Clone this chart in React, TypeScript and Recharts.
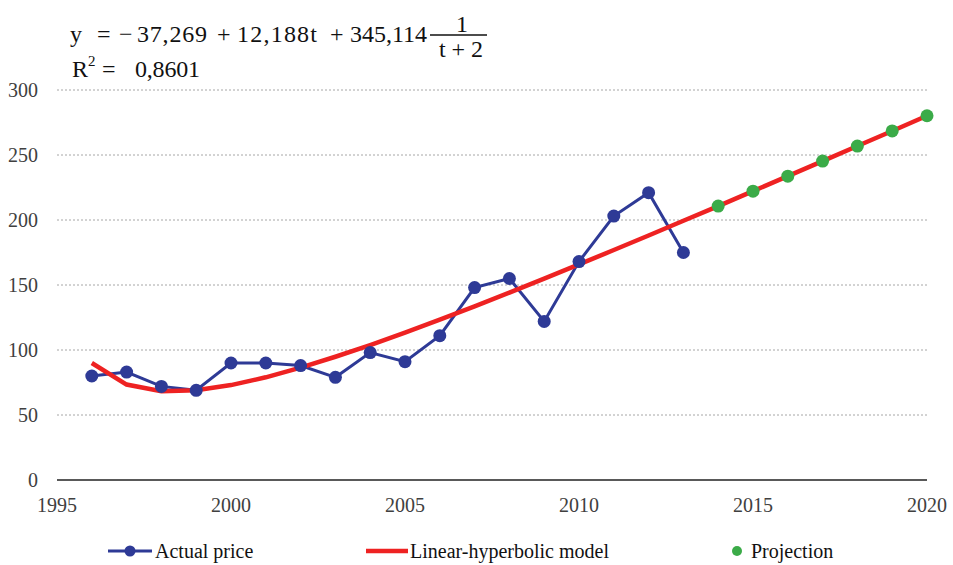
import { ComposedChart, Line, XAxis, YAxis, CartesianGrid } from 'recharts'

const years = [1996, 1997, 1998, 1999, 2000, 2001, 2002, 2003, 2004, 2005, 2006, 2007, 2008, 2009, 2010, 2011, 2012, 2013, 2014, 2015, 2016, 2017, 2018, 2019, 2020]
const actualPrice = [80, 83, 72, 69, 90, 90, 88, 79, 98, 91, 111, 148, 155, 122, 168, 203, 221, 175]
const modelValues = [90.0, 73.4, 68.3, 69.0, 73.0, 79.0, 86.4, 94.8, 103.8, 113.4, 123.4, 133.6, 144.2, 154.9, 165.9, 176.9, 188.1, 199.4, 210.7, 222.2, 233.7, 245.3, 256.9, 268.5, 280.2]
const projectionYears = [2014, 2015, 2016, 2017, 2018, 2019, 2020]
const projectionValues = [210.7, 222.2, 233.7, 245.3, 256.9, 268.5, 280.2]
const xTicks = [1995, 2000, 2005, 2010, 2015, 2020]
const yTicks = [0, 50, 100, 150, 200, 250, 300]

const BLUE = '#2e3a96'
const RED = '#ee2222'
const GREEN = '#3bab48'
const serif = "'Liberation Serif', 'DejaVu Serif', serif"

const chartData = years.map((year, i) => {
  const p = projectionYears.indexOf(year)
  return {
    year,
    actual: i < actualPrice.length ? actualPrice[i] : null,
    model: modelValues[i],
    projection: p >= 0 ? projectionValues[p] : null,
  }
})

// equation and R² drawn above the plot
function Equation() {
  const s = { fontSize: 24, fill: '#111', style: { fontFamily: serif } }
  return (
    <svg width={953} height={90} style={{ position: 'absolute', left: 0, top: 0, pointerEvents: 'none' }}>
      <text x={70} y={42} {...s}>y</text>
      <text x={97} y={42} {...s}>=</text>
      <text x={119} y={42} {...s}>−</text>
      <text x={137} y={42} textLength={70} lengthAdjust="spacing" {...s}>37,269</text>
      <text x={217} y={42} {...s}>+</text>
      <text x={237} y={42} textLength={80} lengthAdjust="spacing" {...s}>12,188t</text>
      <text x={330} y={42} {...s}>+</text>
      <text x={350} y={42} textLength={77} lengthAdjust="spacing" {...s}>345,114</text>
      <text x={462} y={32} textAnchor="middle" {...s}>1</text>
      <line x1={430} x2={487} y1={35} y2={35} stroke="#111" strokeWidth={1.3} />
      <text x={461} y={57} textAnchor="middle" {...s}>t + 2</text>
      <text x={72} y={77} {...s}>R<tspan dy={-11} fontSize={15}>2</tspan></text>
      <text x={102} y={77} {...s}>=</text>
      <text x={135} y={77} textLength={65} lengthAdjust="spacing" {...s}>0,8601</text>
    </svg>
  )
}

function ChartLegend() {
  const text = { position: 'absolute' as const, top: 0, fontFamily: serif, fontSize: 20, color: '#111', lineHeight: '24px' }
  return (
    <div style={{ position: 'absolute', left: 0, top: 539, width: 953, height: 24 }}>
      <svg width={953} height={24} style={{ position: 'absolute', left: 0, top: 0 }}>
        <line x1={108} x2={152} y1={12} y2={12} stroke={BLUE} strokeWidth={3} />
        <circle cx={130} cy={12} r={5.5} fill={BLUE} />
        <line x1={366} x2={408} y1={12} y2={12} stroke={RED} strokeWidth={4.5} />
        <circle cx={737} cy={12} r={5} fill={GREEN} />
      </svg>
      <span style={{ ...text, left: 155 }}>Actual price</span>
      <span style={{ ...text, left: 410 }}>Linear-hyperbolic model</span>
      <span style={{ ...text, left: 751 }}>Projection</span>
    </div>
  )
}

function XTick(props: any) {
  const { x, y, payload } = props
  return (
    <text x={x} y={y} dy="0.71em" textAnchor="middle" fontSize={20} fill="#404040" style={{ fontFamily: serif }}>
      {payload.value}
    </text>
  )
}

function YTick(props: any) {
  const { x, y, payload } = props
  return (
    <text x={x} y={y} dy="0.355em" textAnchor="end" fontSize={20} fill="#404040" style={{ fontFamily: serif }}>
      {payload.value}
    </text>
  )
}

export default function App() {
  return (
    <div style={{ position: 'absolute', left: 0, top: 0, width: 953, height: 565, background: '#fff' }}>
      <ComposedChart width={953} height={565} data={chartData} margin={{ top: 90, right: 26, bottom: 55, left: 7 }}>
        <CartesianGrid vertical={false} stroke="#a6a6a6" strokeDasharray="2 2" />
        <XAxis
          type="number"
          dataKey="year"
          domain={[1995, 2020]}
          ticks={xTicks}
          height={30}
          tickLine={false}
          tickMargin={12}
          axisLine={{ stroke: '#595959', strokeWidth: 2 }}
          tick={<XTick />}
        />
        <YAxis
          domain={[0, 300]}
          ticks={yTicks}
          width={50}
          axisLine={false}
          tickLine={false}
          tickMargin={13}
          tick={<YTick />}
        />
        <Line
          dataKey="actual"
          stroke={BLUE}
          strokeWidth={3}
          dot={{ r: 6.5, fill: BLUE, stroke: 'none' }}
          isAnimationActive={false}
        />
        <Line
          dataKey="model"
          stroke={RED}
          strokeWidth={4.5}
          dot={false}
          isAnimationActive={false}
        />
        <Line
          dataKey="projection"
          stroke="none"
          dot={{ r: 6.5, fill: GREEN, stroke: 'none' }}
          isAnimationActive={false}
        />
      </ComposedChart>
      <Equation />
      <ChartLegend />
    </div>
  )
}
